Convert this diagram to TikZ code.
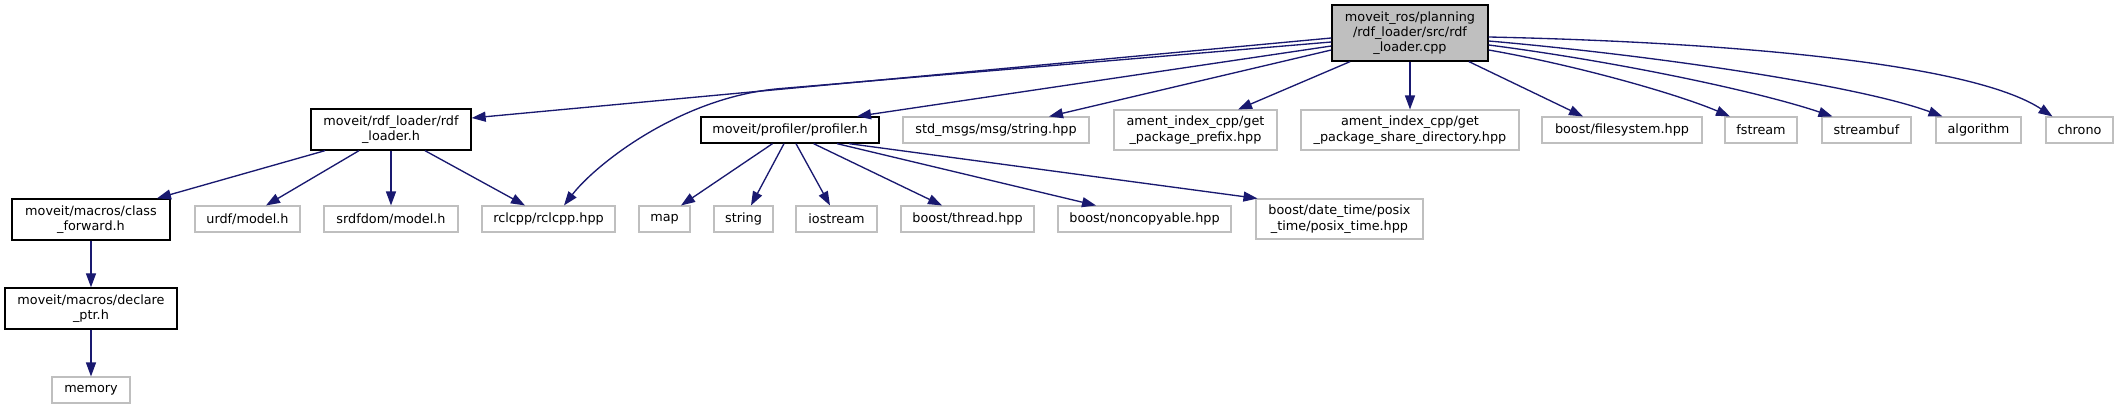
\documentclass[tikz,border=0pt]{standalone}
\usepackage{fontspec}
\setmainfont{DejaVu Sans}
\usetikzlibrary{arrows.meta,calc}
\definecolor{edgeblue}{HTML}{191970}
\definecolor{lgray}{HTML}{BFBFBF}
\definecolor{rootfill}{HTML}{BFBFBF}
\begin{document}
\begin{tikzpicture}[x=0.75pt,y=-0.75pt,
  every node/.style={font=\fontsize{9.6}{11.5}\selectfont, align=center, inner sep=0pt, text=black},
  nbox/.style={draw=lgray, line width=0.8pt, fill=white, rectangle},
  dbox/.style={draw=black, line width=1pt, fill=white, rectangle},
  w/.style={minimum width=#1*0.75pt},
  h/.style={minimum height=#1*0.75pt},
  dep/.style={draw=edgeblue, line width=1pt, -{Triangle[length=10.5pt,width=7.5pt]}}]
\useasboundingbox (0,0) rectangle (2118,409);
\fill[white] (0,0) rectangle (2118,409);
% row 0
\node[dbox,fill=rootfill,w=156,h=56] (root) at (1410,33) {moveit\_ros/planning\\/rdf\_loader/src/rdf\\\_loader.cpp};
% row 1
\node[dbox,w=160,h=41] (rdf) at (391,129.5) {moveit/rdf\_loader/rdf\\\_loader.h};
\node[dbox,w=178,h=26] (prof) at (790,130) {moveit/profiler/profiler.h};
\node[nbox,w=186,h=26] (stdmsgs) at (996,130) {std\_msgs/msg/string.hpp};
\node[nbox,w=163,h=40] (amentp) at (1195.5,130) {ament\_index\_cpp/get\\\_package\_prefix.hpp};
\node[nbox,w=218,h=40] (aments) at (1410,130) {ament\_index\_cpp/get\\\_package\_share\_directory.hpp};
\node[nbox,w=160,h=26] (bfs) at (1622,130) {boost/filesystem.hpp};
\node[nbox,w=72,h=26] (fstream) at (1761,130) {fstream};
\node[nbox,w=89,h=26] (streambuf) at (1866.5,130) {streambuf};
\node[nbox,w=85,h=26] (algo) at (1978.5,130) {algorithm};
\node[nbox,w=67,h=26] (chrono) at (2079.5,130) {chrono};
% row 2
\node[dbox,w=158,h=41] (classfwd) at (91,219.5) {moveit/macros/class\\\_forward.h};
\node[nbox,w=105,h=26] (urdf) at (247.5,219) {urdf/model.h};
\node[nbox,w=134,h=26] (srdf) at (391,219) {srdfdom/model.h};
\node[nbox,w=133,h=26] (rclcpp) at (548.5,219) {rclcpp/rclcpp.hpp};
\node[nbox,w=51,h=26] (map) at (664.5,219) {map};
\node[nbox,w=59,h=26] (string) at (743.5,219) {string};
\node[nbox,w=81,h=26] (iostream) at (836.5,219) {iostream};
\node[nbox,w=133,h=26] (bthread) at (967.5,219) {boost/thread.hpp};
\node[nbox,w=173,h=26] (bnoncp) at (1144.5,219) {boost/noncopyable.hpp};
\node[nbox,w=167,h=40] (posix) at (1339.5,219) {boost/date\_time/posix\\\_time/posix\_time.hpp};
% rows 3,4
\node[dbox,w=172,h=41] (declptr) at (91,308.5) {moveit/macros/declare\\\_ptr.h};
\node[nbox,w=78,h=26] (memory) at (91,390) {memory};
\coordinate (bendA) at (780,88.6);
% edges from root
\draw[dep] ($(root.west)+(0,5)$) -- ($(rdf.east)+(0,-11.5)$);
\draw[dep] ($(root.west)+(0,9)$) -- (bendA) .. controls (680,97) and (595,165) .. ($(rclcpp.north)+(15.5,0)$);
\draw[dep] ($(root.west)+(0,13)$) -- ($(prof.north)+(67,0)$);
\draw[dep] ($(root.west)+(0,17)$) -- ($(stdmsgs.north)+(53,0)$);
\draw[dep] ($(root.south)+(-60,0)$) -- ($(amentp.north)+(42.5,0)$);
\draw[dep] (root.south) -- (aments.north);
\draw[dep] ($(root.south)+(59,0)$) -- ($(bfs.north)+(-39,0)$);
\draw[dep] ($(root.east)+(0,17)$) .. controls (1580,66) and (1680,95) .. ($(fstream.north)+(-31,0)$);
\draw[dep] ($(root.east)+(0,12)$) .. controls (1620,62) and (1760,92) .. ($(streambuf.north)+(-34,0)$);
\draw[dep] ($(root.east)+(0,8)$) .. controls (1660,56) and (1860,86) .. ($(algo.north)+(-36,0)$);
\draw[dep] ($(root.east)+(0,4)$) .. controls (1720,42) and (1970,62) .. ($(chrono.north)+(-27,0)$);
% edges from rdf_loader.h
\draw[dep] ($(rdf.south)+(-66,0)$) -- ($(classfwd.north)+(66,0)$);
\draw[dep] ($(rdf.south)+(-32,0)$) -- ($(urdf.north)+(18.5,0)$);
\draw[dep] (rdf.south) -- (srdf.north);
\draw[dep] ($(rdf.south)+(34,0)$) -- ($(rclcpp.north)+(-23.5,0)$);
\draw[dep] (classfwd.south) -- (declptr.north);
\draw[dep] (declptr.south) -- (memory.north);
% edges from profiler.h
\draw[dep] ($(prof.south)+(-17.5,0)$) -- ($(map.north)+(16.5,0)$);
\draw[dep] ($(prof.south)+(-6,0)$) -- ($(string.north)+(7.5,0)$);
\draw[dep] ($(prof.south)+(6,0)$) -- ($(iostream.north)+(-6.5,0)$);
\draw[dep] ($(prof.south)+(23.6,0)$) -- ($(bthread.north)+(-25.5,0)$);
\draw[dep] ($(prof.south)+(47,0)$) -- ($(bnoncp.north)+(-48.5,0)$);
\draw[dep] ($(prof.south)+(59,0)$) -- ($(posix.north west)+(2,0)$);
\end{tikzpicture}
\end{document}
